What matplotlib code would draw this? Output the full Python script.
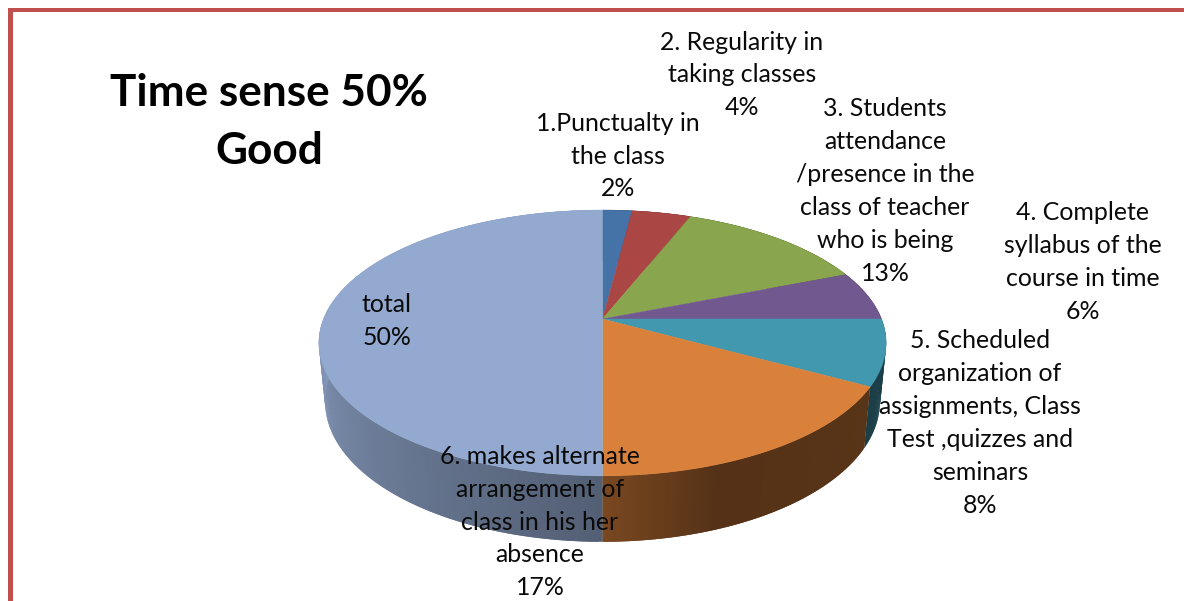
#!/usr/bin/env python3
"""Time sense 50% Good -- perspective 3D pie drawn from polygons."""

import matplotlib
matplotlib.use('Agg')
import matplotlib.pyplot as plt
import numpy as np
from matplotlib.patches import Polygon, Rectangle

categories = [
    "1.Punctualty in\nthe class",
    "2. Regularity in\ntaking classes",
    "3. Students\nattendance\n/presence in the\nclass of teacher\nwho is being",
    "4. Complete\nsyllabus of the\ncourse in time",
    "5. Scheduled\norganization of\nassignments, Class\nTest ,quizzes and\nseminars",
    "6. makes alternate\narrangement of\nclass in his her\nabsence",
    "total",
]
values = [2, 4, 13, 6, 8, 17, 50]
title_text = "Time sense 50%\nGood"

colors = ['#4572A7', '#AA4643', '#89A54E', '#71588F', '#4198AF', '#D9803A', '#93A9CF']
label_pos = [(618, 156), (742, 75), (885, 191), (1083, 262), (980, 423), (540, 522), (387, 321)]

W, H = 1184, 601
CX, CY = 602.5, 319.0
A, B, K = 279.0, 128.6, 0.18
SX, SY, DY = 0.978, 1.054, 57.5

plt.rcParams['font.family'] = ['Lato', 'DejaVu Sans']


def top_xy(t):
    # t clockwise from 12 o'clock, radians; perspective projection of a circle
    X, Y = np.sin(t), np.cos(t)
    w = 1 + K * Y
    return CX + A * X / w, CY - B * Y / w


def bottom_xy(t):
    x, y = top_xy(t)
    return CX + (x - CX) * SX, CY + (y - CY) * SY + DY


def wall_shade(deg):
    return np.interp(deg, [90, 160, 180, 270], [0.42, 0.39, 0.56, 0.90])


def main():
    fig = plt.figure(figsize=(W / 100, H / 100), dpi=100, facecolor='white')
    ax = fig.add_axes([0, 0, 1, 1])
    ax.set_xlim(0, W)
    ax.set_ylim(H, 0)
    ax.axis('off')

    # frame of the slide
    ax.add_patch(Rectangle((8, 8), W - 8, 3.5, color='#C0504D', lw=0))
    ax.add_patch(Rectangle((8, 8), 5, H - 8, color='#C0504D', lw=0))

    edges = np.cumsum([0] + values) / sum(values) * 2 * np.pi

    # side walls, strip by strip for the gradient; each strip overlaps the next
    # so no seams show between them
    for i, col in enumerate(colors):
        base = np.array(matplotlib.colors.to_rgb(col))
        ts = np.linspace(edges[i], edges[i + 1], max(3, int(values[i] * 6)))
        for j in range(len(ts) - 1):
            t0, t1 = ts[j], ts[min(j + 2, len(ts) - 1)]
            x0, y0 = top_xy(t0)
            x1, y1 = top_xy(t1)
            x2, y2 = bottom_xy(t1)
            x3, y3 = bottom_xy(t0)
            c = base * wall_shade(np.degrees((ts[j] + ts[j + 1]) / 2))
            ax.add_patch(Polygon([(x0, y0), (x1, y1), (x2, y2), (x3, y3)],
                                 facecolor=c, edgecolor='none', lw=0))

    # top faces
    for i, col in enumerate(colors):
        ts = np.linspace(edges[i], edges[i + 1], max(8, values[i] * 8))
        xs, ys = top_xy(ts)
        pts = [(CX, CY)] + list(zip(xs, ys))
        ax.add_patch(Polygon(pts, facecolor=col, edgecolor=col, lw=0.3))

    for name, v, (x, y) in zip(categories, values, label_pos):
        ax.text(x, y, f"{name}\n{v}%", ha='center', va='center', multialignment='center',
                fontsize=17.9, linespacing=1.52, color='#0a0a0a')

    ax.text(269, 122, title_text, ha='center', va='center', multialignment='center',
            fontsize=31.8, fontweight='bold', linespacing=1.53, color='black')

    fig.savefig('out.png', dpi=100, facecolor='white')


if __name__ == '__main__':
    main()
